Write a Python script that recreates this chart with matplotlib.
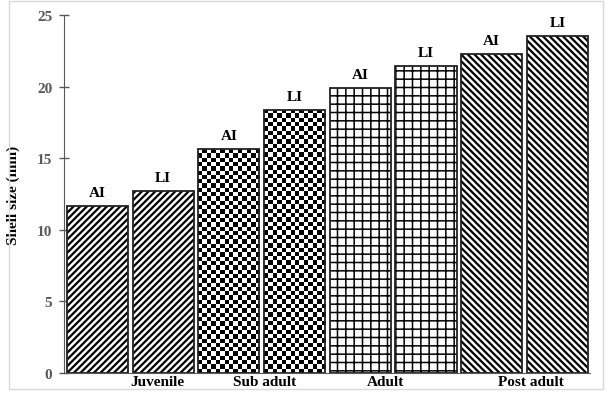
import numpy as np
import matplotlib
matplotlib.use("Agg")
import matplotlib.pyplot as plt
from matplotlib.patches import Rectangle

# ---- data ----
groups = ["Juvenile", "Sub adult", "Adult", "Post adult"]
series = ["AI", "LI"]
ai_values = [11.66, 15.64, 19.9, 22.28]
li_values = [12.73, 18.39, 21.42, 23.55]
y_ticks = [0, 5, 10, 15, 20, 25]
group_label_shift = [0.41, 0.05, -0.11, 0.10]  # label placement offsets

# ---- style ----
plt.rcParams['font.family'] = ['Liberation Serif', 'DejaVu Serif']
plt.rcParams['font.weight'] = 'bold'
plt.rcParams['hatch.color'] = 'black'

W, H = 606, 402
fig = plt.figure(figsize=(W / 100, H / 100), dpi=100)
ax = fig.add_axes([64 / W, 1 - 374 / H, (590 - 64) / W, (374 - 16) / H])

values = []
labels = []
for a, l in zip(ai_values, li_values):
    values += [a, l]
    labels += series
x = np.arange(len(values))
width = 0.93
patterns = ['/////', '/////', 'checker', 'checker', '++', '++',
            '\\\\\\\\\\', '\\\\\\\\\\']
hatch_lw = {'/////': 1.6, '\\\\\\\\\\': 1.6, '++': 1.1}

ax.set_xlim(-0.51, 7.496)
ax.set_ylim(0, 25)

for xi, v, p in zip(x, values, patterns):
    if p == 'checker':
        bar = ax.bar(xi, v, width, color='white', edgecolor='none', zorder=2)[0]
        # checkerboard texture of ~4.3px cells
        p0 = ax.transData.transform((xi - width / 2, 0))
        p1 = ax.transData.transform((xi + width / 2, v))
        nx = max(1, int(round((p1[0] - p0[0]) / 4.3)))
        ny = max(1, int(round((p1[1] - p0[1]) / 4.3)))
        ii, jj = np.meshgrid(np.arange(nx), np.arange(ny))
        board = ((ii + jj) % 2).astype(float)
        im = ax.imshow(board, cmap='gray', vmin=0, vmax=1, origin='lower',
                       extent=(xi - width / 2, xi + width / 2, 0, v),
                       aspect='auto', interpolation='nearest', zorder=2.5)
        im.set_clip_path(bar)
    else:
        with plt.rc_context({'hatch.linewidth': hatch_lw[p]}):
            b = ax.bar(xi, v, width, color='white', edgecolor='black',
                       hatch=p, linewidth=0, zorder=2)[0]
        if hasattr(b, 'set_hatch_linewidth'):
            b.set_hatch_linewidth(hatch_lw[p])
    ax.bar(xi, v, width, fill=False, edgecolor='#222222', linewidth=1.3, zorder=3)

ax.set_xlim(-0.51, 7.496)
ax.set_ylim(0, 25)

for xi, v, lab in zip(x, values, labels):
    ax.annotate(lab, (xi, v), xytext=(0, 5), textcoords='offset points',
                ha='center', va='bottom', fontsize=11, fontweight='bold',
                color='black')

# axes styling
for s in ['top', 'right']:
    ax.spines[s].set_visible(False)
ax.spines['left'].set_color('#595959')
ax.spines['bottom'].set_color('#595959')
ax.spines['left'].set_zorder(4)
ax.spines['bottom'].set_zorder(4)
ax.set_yticks(y_ticks)
ax.tick_params(axis='y', direction='inout', length=7, width=1, color='#595959',
               labelcolor='#595959', labelsize=11, pad=5)
for t in ax.get_yticklabels():
    t.set_fontweight('bold')

group_centers = [2 * i + 0.5 + s for i, s in enumerate(group_label_shift)]
ax.set_xticks(group_centers)
ax.set_xticklabels(groups, fontsize=11, fontweight='bold')
ax.tick_params(axis='x', length=0, pad=1.5)

ax.set_ylabel('Shell size (mm)', fontsize=11, fontweight='bold', labelpad=12)

fig.patches.append(Rectangle((9 / W, 1 - 390 / H), (603 - 9) / W, (390 - 2) / H,
                             transform=fig.transFigure, fill=False,
                             edgecolor='#d9d9d9', linewidth=1))

fig.savefig('out.png', dpi=100)
